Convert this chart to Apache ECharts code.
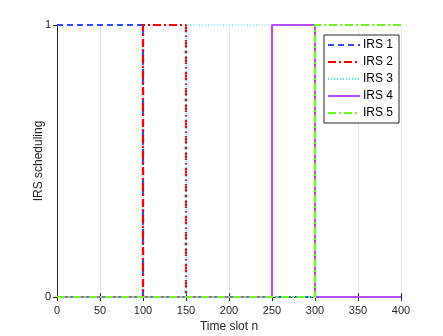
<!DOCTYPE html>
<html lang="en">
<head>
    <meta charset="UTF-8">
    <title>IRS scheduling</title>
    <style>
        html,body{margin:0;padding:0;width:100%;height:100%;background:#fff;}
        #chart{width:443px;height:336px;}
    </style>
</head>
<body>
<div id="chart"></div>
<script src="https://cdn.jsdelivr.net/npm/echarts@6/dist/echarts.min.js"></script>
<script type="text/javascript">
    // switching points of each IRS: [time slot, scheduled]
    var irs1 = [[0, 1], [100, 1], [100, 0], [400, 0]];
    var irs2 = [[0, 0], [100, 0], [100, 1], [150, 1], [150, 0], [400, 0]];
    var irs3 = [[0, 0], [150, 0], [150, 1], [250, 1], [250, 0], [400, 0]];
    var irs4 = [[0, 0], [250, 0], [250, 1], [300, 1], [300, 0], [400, 0]];
    var irs5 = [[0, 0], [300, 0], [300, 1], [400, 1]];
    var names = ['IRS 1', 'IRS 2', 'IRS 3', 'IRS 4', 'IRS 5'];
    var xTicks = [0, 50, 100, 150, 200, 250, 300, 350, 400];
    var yTicks = [0, 1];

    var font = 'Liberation Sans, Arial, sans-serif';
    var axisColor = '#262626';

    function mkSeries(name, data, color, width, dash) {
        return {
            name: name,
            type: 'line',
            data: data,
            showSymbol: false,
            symbol: 'none',
            clip: false,
            animation: false,
            lineStyle: {color: color, width: width, type: dash},
            itemStyle: {color: color}
        };
    }

    var myChart = echarts.init(document.getElementById('chart'));
    var option = {
        backgroundColor: '#fff',
        animation: false,
        grid: {left: 57, right: 42, top: 25, bottom: 39, containLabel: false, outerBoundsMode: 'none'},
        legend: {
            orient: 'vertical',
            right: 44,
            top: 35,
            data: names,
            itemWidth: 32,
            itemHeight: 10,
            itemGap: 5,
            padding: [4, 6, 4, 3],
            backgroundColor: '#fff',
            borderColor: '#262626',
            borderWidth: 1,
            borderRadius: 0,
            itemStyle: {opacity: 0},
            textStyle: {fontFamily: font, fontSize: 12, color: '#000', padding: [0, 0, 0, -2]}
        },
        xAxis: [{
            type: 'value',
            min: 0, max: 400, interval: 50,
            name: 'Time slot n',
            nameLocation: 'middle',
            nameGap: 24,
            nameMoveOverlap: false,
            nameTextStyle: {fontFamily: font, fontSize: 12, color: axisColor},
            axisLine: {show: true, onZero: false, lineStyle: {color: axisColor}},
            axisTick: {show: true, inside: true, length: 4, lineStyle: {color: axisColor}},
            axisLabel: {fontFamily: font, fontSize: 11, color: axisColor, margin: 8,
                customValues: xTicks},
            splitLine: {show: true, lineStyle: {color: '#e6e6e6'}}
        }, {
            type: 'value', position: 'top',
            min: 0, max: 400, interval: 50,
            axisLine: {show: true, lineStyle: {color: axisColor}},
            axisTick: {show: true, inside: true, length: 4, lineStyle: {color: axisColor}},
            axisLabel: {show: false},
            splitLine: {show: false}
        }],
        yAxis: [{
            type: 'value',
            min: 0, max: 1, interval: 1,
            name: 'IRS scheduling',
            nameLocation: 'middle',
            nameGap: 12,
            nameMoveOverlap: false,
            nameTextStyle: {fontFamily: font, fontSize: 12, color: axisColor},
            axisLine: {show: true, lineStyle: {color: axisColor}},
            axisTick: {show: true, inside: true, length: 4, lineStyle: {color: axisColor}},
            axisLabel: {fontFamily: font, fontSize: 11, color: axisColor, margin: 6,
                customValues: yTicks},
            splitLine: {show: false}
        }, {
            type: 'value', position: 'right',
            min: 0, max: 1, interval: 1,
            axisLine: {show: true, lineStyle: {color: axisColor}},
            axisTick: {show: true, inside: true, length: 4, lineStyle: {color: axisColor}},
            axisLabel: {show: false},
            splitLine: {show: false}
        }],
        series: [
            mkSeries(names[0], irs1, '#2b4cff', 2.2, [6, 4]),
            mkSeries(names[1], irs2, '#ff0000', 2.2, [8, 3, 2, 3]),
            mkSeries(names[2], irs3, '#2ef2e6', 1.2, [1, 2]),
            mkSeries(names[3], irs4, '#b44cff', 2.2, 'solid'),
            mkSeries(names[4], irs5, '#66ff1a', 2.2, [8, 3, 2, 3])
        ]
    };
    myChart.setOption(option, true);
</script>
</body>
</html>
